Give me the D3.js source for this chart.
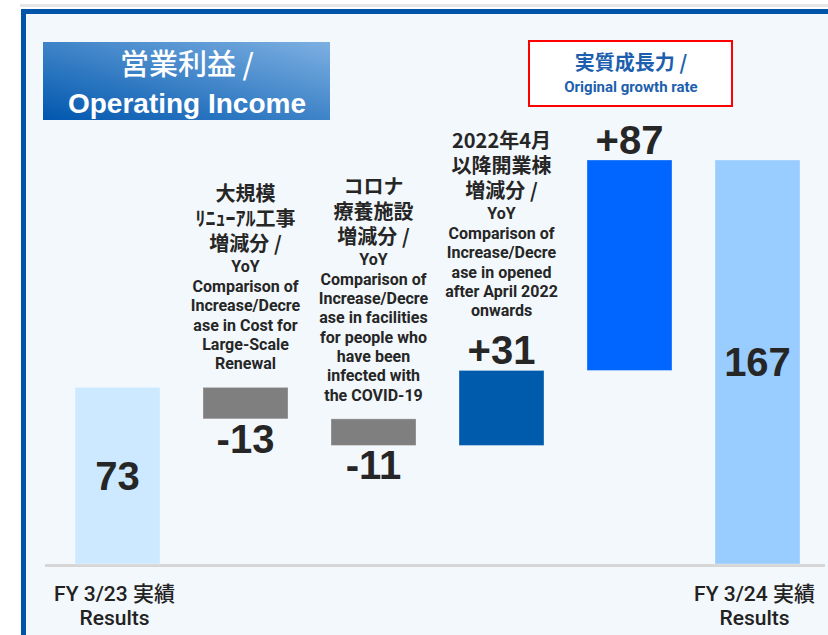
<!DOCTYPE html>
<html>
<head>
<meta charset="utf-8">
<script src="https://cdn.jsdelivr.net/npm/d3@7"></script>
<style>
  html, body { margin: 0; padding: 0; background: #fff; }
  svg { display: block; }
  .num { font-family: "Liberation Sans", Arial, sans-serif; font-weight: bold; font-size: 40px; fill: #262626; }
  .note-ja { font-family: "Noto Sans CJK JP", sans-serif; font-weight: bold; font-size: 20px; fill: #262626; }
  .note-en { font-family: Roboto, "Noto Sans CJK JP", sans-serif; font-weight: bold; font-size: 16px; fill: #262626; }
  .cat { font-family: Roboto, "Noto Sans CJK JP", sans-serif; font-weight: 500; font-size: 21px; fill: #222; }
</style>
</head>
<body>
<script>
var width = 828,
    height = 635;

// chart data
var categories = ["FY 3/23", "renewal", "covid", "opened", "growth", "FY 3/24"];
var values = [73, -13, -11, 31, 87, 167];
var kinds = ["total", "delta", "delta", "delta", "delta", "total"];
var valueLabels = ["73", "-13", "-11", "+31", "+87", "167"];
var catLines = [["FY 3/23 実績", "Results"], [], [], [], [], ["FY 3/24 実績", "Results"]];
var notesJa = [
    [],
    ["大規模", "ﾘﾆｭｰｱﾙ工事", "増減分 /"],
    ["コロナ", "療養施設", "増減分 /"],
    ["2022年4月", "以降開業棟", "増減分 /"],
    [],
    []
];
var notesEn = [
    [],
    ["YoY", "Comparison of", "Increase/Decre", "ase in Cost for", "Large-Scale", "Renewal"],
    ["YoY", "Comparison of", "Increase/Decre", "ase in facilities", "for people who", "have been", "infected with", "the COVID-19"],
    ["YoY", "Comparison of", "Increase/Decre", "ase in opened", "after April 2022", "onwards"],
    [],
    []
];
var colors = ["#cce9ff", "#7f7f7f", "#7f7f7f", "#005bac", "#0066ff", "#99ccff"];

// running totals for the waterfall
var bars = [], run = 0;
values.forEach(function (v, i) {
    var d = { key: categories[i], i: i, v: v, label: valueLabels[i] };
    if (kinds[i] == "total") { d.y0 = 0; d.y1 = v; run = v; }
    else { d.y0 = run; d.y1 = run + v; run = run + v; }
    bars.push(d);
});

var x = d3.scaleBand()
    .domain(categories)
    .range([53.5, 821.5])
    .paddingInner(0.336)
    .paddingOuter(0.168);

var y = d3.scaleLinear()
    .domain([0, 167])
    .range([564, 160]);

var svg = d3.select("body").append("svg")
    .attr("width", width)
    .attr("height", height);

var defs = svg.append("defs");
var grad = defs.append("linearGradient")
    .attr("id", "titleGrad")
    .attr("x1", 0).attr("y1", 1).attr("x2", 1).attr("y2", 0);
grad.append("stop").attr("offset", "0%").attr("stop-color", "#0057ae");
grad.append("stop").attr("offset", "100%").attr("stop-color", "#7db0e2");

// panel frame
svg.append("rect").attr("x", 20).attr("y", 4).attr("width", 808).attr("height", 3).attr("fill", "#e6e6e6");
svg.append("rect").attr("x", 21).attr("y", 9).attr("width", 807).attr("height", 626).attr("fill", "#0055a8");
svg.append("rect").attr("x", 26).attr("y", 14).attr("width", 802).attr("height", 621).attr("fill", "#f3f8fc");

// title box
svg.append("rect")
    .attr("x", 43).attr("y", 42).attr("width", 287).attr("height", 78)
    .attr("fill", "url(#titleGrad)");
svg.append("text")
    .attr("x", 187).attr("y", 75)
    .attr("text-anchor", "middle")
    .style("font-family", "'Noto Sans CJK JP', sans-serif")
    .style("font-weight", 500)
    .style("font-size", "29px")
    .attr("fill", "#fff")
    .text("営業利益 /");
svg.append("text")
    .attr("x", 187).attr("y", 113)
    .attr("text-anchor", "middle")
    .style("font-family", "'Liberation Sans', Arial, sans-serif")
    .style("font-weight", "bold")
    .style("font-size", "28px")
    .attr("fill", "#fff")
    .text("Operating Income");

// original growth rate box
svg.append("rect")
    .attr("x", 529).attr("y", 41).attr("width", 203).attr("height", 65)
    .attr("fill", "#fff")
    .attr("stroke", "#ff0000")
    .attr("stroke-width", 2);
svg.append("text")
    .attr("x", 631).attr("y", 70)
    .attr("text-anchor", "middle")
    .style("font-family", "'Noto Sans CJK JP', sans-serif")
    .style("font-weight", "bold")
    .style("font-size", "20px")
    .attr("fill", "#1d5fae")
    .text("実質成長力 /");
svg.append("text")
    .attr("x", 631).attr("y", 92)
    .attr("text-anchor", "middle")
    .style("font-family", "Roboto, sans-serif")
    .style("font-weight", "bold")
    .style("font-size", "15px")
    .attr("fill", "#1d5fae")
    .text("Original growth rate");

// baseline
svg.append("rect")
    .attr("x", 45).attr("y", y(0)).attr("width", 780).attr("height", 3)
    .attr("fill", "#d6d6d6");

// bars
svg.selectAll("rect.bar")
    .data(bars)
    .enter().append("rect")
    .attr("class", "bar")
    .attr("x", function (d) { return x(d.key); })
    .attr("y", function (d) { return y(Math.max(d.y0, d.y1)); })
    .attr("width", x.bandwidth())
    .attr("height", function (d) { return Math.abs(y(d.y0) - y(d.y1)); })
    .attr("fill", function (d) { return colors[d.i]; })
    .attr("stroke", "#fff")
    .attr("stroke-opacity", 0.3)
    .attr("stroke-width", 1);

// value labels
svg.selectAll("text.num")
    .data(bars)
    .enter().append("text")
    .attr("class", "num")
    .attr("text-anchor", "middle")
    .attr("x", function (d) { return x(d.key) + x.bandwidth() / 2; })
    .attr("y", function (d) {
        if (kinds[d.i] == "total") return y(d.y1 / 2) + 14;
        if (d.v < 0) return y(d.y1) + 34;
        return y(d.y1) - 6;
    })
    .text(function (d) { return d.label; });

// annotations above delta bars
bars.forEach(function (d) {
    var ja = notesJa[d.i], en = notesEn[d.i];
    if (!ja.length) return;
    var top = y(Math.max(d.y0, d.y1));
    var anchor = d.v < 0 ? top : top - 36;
    var lastCenter = anchor - 24;
    // build line centers from the bottom up
    var lines = [];
    var cy = lastCenter;
    for (var k = en.length - 1; k >= 1; k--) { lines.unshift({ t: en[k], c: "note-en", y: cy }); cy -= 19.3; }
    cy -= 0.7;
    lines.unshift({ t: en[0], c: "note-en", y: cy }); cy -= 22;
    for (var j = ja.length - 1; j >= 0; j--) { lines.unshift({ t: ja[j], c: "note-ja", y: cy }); cy -= 25; }
    var cx = x(d.key) + x.bandwidth() / 2;
    lines.forEach(function (l) {
        svg.append("text")
            .attr("class", l.c)
            .attr("x", cx)
            .attr("y", l.y)
            .attr("dy", "0.36em")
            .attr("text-anchor", "middle")
            .text(l.t);
    });
});

// category labels under the baseline
bars.forEach(function (d) {
    var cl = catLines[d.i];
    cl.forEach(function (t, k) {
        svg.append("text")
            .attr("class", "cat")
            .attr("x", x(d.key) + x.bandwidth() / 2 - 3)
            .attr("y", 593 + k * 24)
            .attr("dy", "0.36em")
            .attr("text-anchor", "middle")
            .text(t);
    });
});
</script>
</body>
</html>
